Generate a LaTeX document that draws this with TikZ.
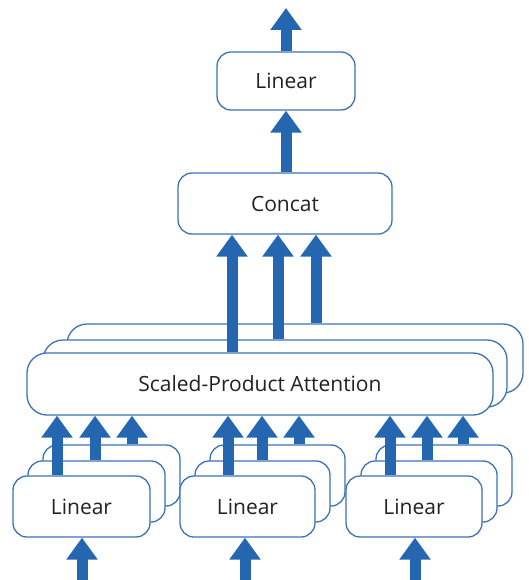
\documentclass[tikz,border=0pt]{standalone}
\usepackage{fontspec}
\setmainfont{Open Sans}
\usetikzlibrary{arrows.meta}
\definecolor{arrblue}{HTML}{2467B0}
\definecolor{boxblue}{HTML}{3B73B9}
\definecolor{txt}{HTML}{222222}
\begin{document}
\begin{tikzpicture}[x=1pt,y=-1pt,
  box/.style={draw=boxblue, line width=1.3pt, fill=white, rounded corners=14pt,
    text=txt, font=\fontsize{21}{25}\selectfont, inner sep=0pt},
  lin/.style={box, minimum width=137pt, minimum height=61pt},
  attn/.style={box, rounded corners=20pt},
  arr/.style={draw=arrblue, line width=11pt, line cap=butt,
    -{Triangle[width=30pt,length=22pt]}}]
\useasboundingbox (0,0) rectangle (528,580);

% top linear and concat
\node[box, minimum width=138pt, minimum height=58pt] (top) at (286,81) {Linear};
\node[box, minimum width=214pt, minimum height=61pt] (concat) at (285,203.5) {Concat};

% attention stack
\node[attn, minimum width=456pt, minimum height=69pt] (attC) at (295,358.5) {};
\node[attn, minimum width=464pt, minimum height=67pt] (attB) at (275,373.5) {};
\node[attn, minimum width=466pt, minimum height=62pt] (attA) at (260,384) {Scaled-Product Attention};

% linear groups
\foreach \g/\cx/\w in {1/81.5/137, 2/247.5/135, 3/414/136}{
  \node[lin, minimum width=\w pt] (g\g c) at (\cx+30,475.5) {};
  \node[lin, minimum width=\w pt] (g\g b) at (\cx+15,491.5) {};
  \node[lin, minimum width=\w pt] (g\g a) at (\cx,506.5) {Linear};
}

% coordinates for arrow columns
\coordinate (out) at (286,8);
\coordinate (k1) at (232,0);
\coordinate (k2) at (278,0);
\coordinate (k3) at (316,0);
\coordinate (in1) at (82,580);
\coordinate (in2) at (245,580);
\coordinate (in3) at (415,580);

\draw[arr] (top.north) -- (out);
\draw[arr] (concat.north -| top.north) -- (top.south);
\draw[arr] (attA.north -| k1) -- (concat.south -| k1);
\draw[arr] (attB.north -| k2) -- (concat.south -| k2);
\draw[arr] (attC.north -| k3) -- (concat.south -| k3);

\foreach \g/\xa/\xb/\xc in {1/57/95/132, 2/228/262/299, 3/390/427/463}{
  \coordinate (p\g a) at (\xa,0);
  \coordinate (p\g b) at (\xb,0);
  \coordinate (p\g c) at (\xc,0);
  \draw[arr] (g\g a.north -| p\g a) -- (attA.south -| p\g a);
  \draw[arr] (g\g b.north -| p\g b) -- (attA.south -| p\g b);
  \draw[arr] (g\g c.north -| p\g c) -- (attA.south -| p\g c);
}
\draw[arr] (in1) -- (g1a.south -| in1);
\draw[arr] (in2) -- (g2a.south -| in2);
\draw[arr] (in3) -- (g3a.south -| in3);
\end{tikzpicture}
\end{document}
